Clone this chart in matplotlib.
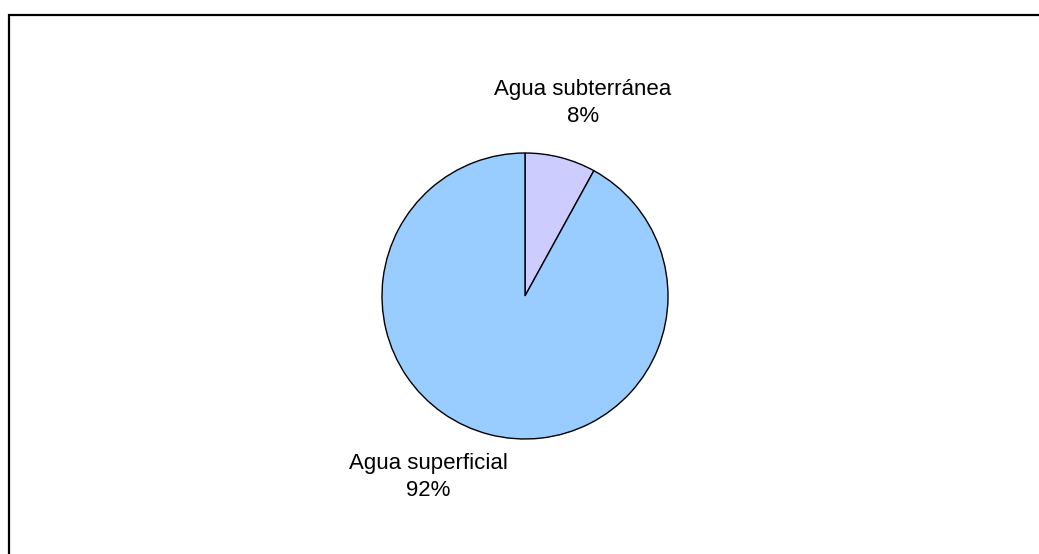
import matplotlib.pyplot as plt
from matplotlib.patches import Rectangle

labels = ['Agua subterránea', 'Agua superficial']
values = [8, 92]
colors = ['#CCCCFF', '#99CCFF']

W, H = 1039, 554
fig = plt.figure(figsize=(W / 100, H / 100), dpi=100)
ax = fig.add_axes([0, 0, 1, 1])

# chart frame (runs off the right and bottom edges)
ax.add_patch(Rectangle((9, -10), W + 20, H - 15 + 10, fill=False,
                       edgecolor='black', linewidth=1.6))

ax.pie(values, colors=colors, startangle=90, counterclock=False,
       center=(525, H - 296), radius=143, frame=True,
       wedgeprops=dict(edgecolor='black', linewidth=1))
ax.set_xlim(0, W)
ax.set_ylim(0, H)
ax.set_aspect('auto')
ax.axis('off')

label_pos = [(583, H - 103), (428, H - 477)]
for lab, v, (x, y) in zip(labels, values, label_pos):
    ax.text(x, y, f'{lab}\n{v}%', ha='center', va='center',
            fontsize=16, family='Liberation Sans', linespacing=1.35)

fig.savefig('out.png', dpi=100)
